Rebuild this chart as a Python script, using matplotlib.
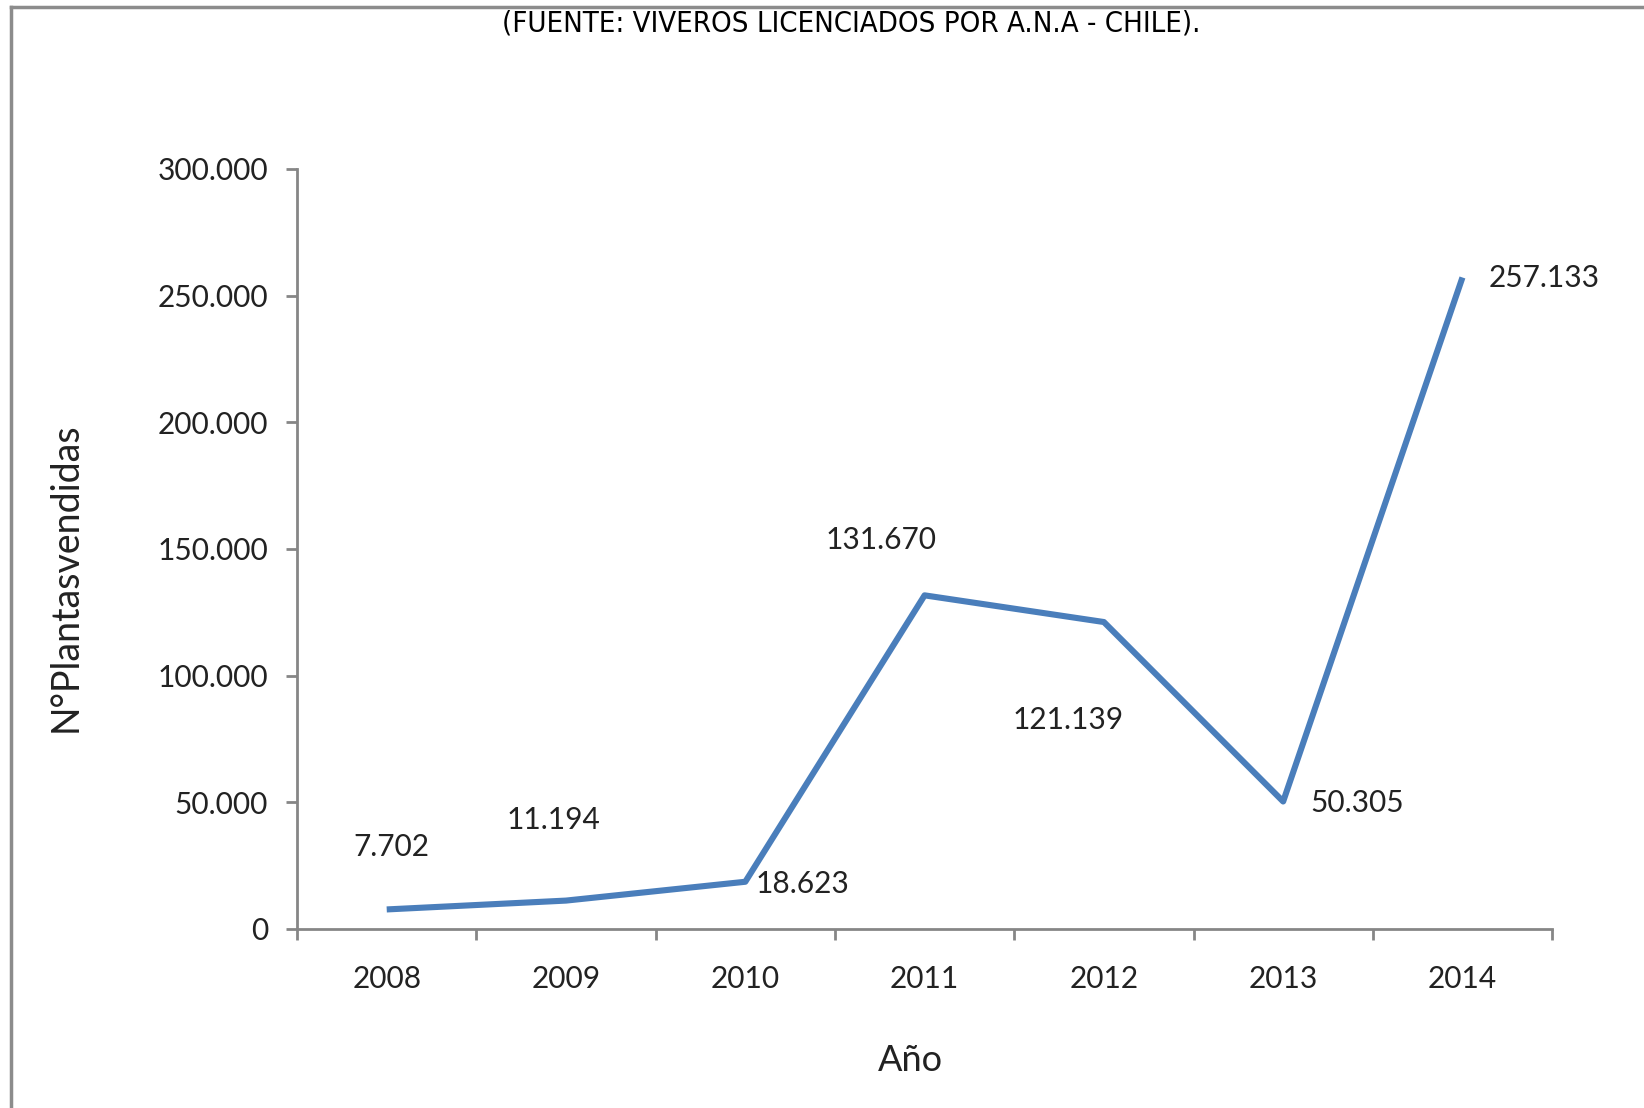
"""
Plantas vendidas por año (fuente: viveros licenciados por A.N.A - Chile)
"""

import matplotlib
matplotlib.use("Agg")
import matplotlib.pyplot as plt
from matplotlib.lines import Line2D
from matplotlib.ticker import FuncFormatter, MultipleLocator, FixedLocator

years = ["2008", "2009", "2010", "2011", "2012", "2013", "2014"]
plants = [7702, 11194, 18623, 131670, 121139, 50305, 257133]
value_labels = ["7.702", "11.194", "18.623", "131.670", "121.139", "50.305", "257.133"]

# label offsets in pixels (dx, dy) from each point
offsets = [(5, 62), (-13, 81), (57, -2), (-44, 55), (-36, -98), (74, -2), (82, -1)]

plt.rcParams["font.family"] = ["Lato", "DejaVu Sans"]
axis_gray = "#868686"
line_blue = "#4A7EBB"


def thousands(v, pos):
    return f"{int(v):,}".replace(",", ".")


def plot_plantas():
    fig = plt.figure(figsize=(16.44, 11.08), dpi=100)
    ax = fig.add_axes([0.1807, 0.1616, 0.7634, 0.686])

    x = list(range(len(years)))
    ax.plot(x, plants, color=line_blue, linewidth=4.4, solid_capstyle="butt")

    for xi, yi, lab, (dx, dy) in zip(x, plants, value_labels, offsets):
        ax.annotate(lab, (xi, yi), xytext=(dx, dy), textcoords="offset pixels",
                    ha="center", va="center", fontsize=21.5, color="#222222")

    ax.set_xlim(-0.5, len(years) - 0.5)
    ax.set_ylim(0, 300000)
    ax.yaxis.set_major_locator(MultipleLocator(50000))
    ax.yaxis.set_major_formatter(FuncFormatter(thousands))

    ax.set_xticks(x)
    ax.set_xticklabels(years)
    ax.xaxis.set_minor_locator(FixedLocator([i - 0.5 for i in range(len(years) + 1)]))
    ax.tick_params(axis="x", which="major", length=0, pad=26, labelsize=21.5,
                   labelcolor="#222222")
    ax.tick_params(axis="x", which="minor", length=8, width=2, color=axis_gray, direction="out")
    ax.tick_params(axis="y", length=8, width=2, color=axis_gray, direction="out",
                   pad=13, labelsize=21.5, labelcolor="#222222")

    for side in ["top", "right"]:
        ax.spines[side].set_visible(False)
    for side in ["left", "bottom"]:
        ax.spines[side].set_color(axis_gray)
        ax.spines[side].set_linewidth(2)

    fig.text(0.5535, 0.0433, "Año", ha="center", va="center", fontsize=26, color="#222222")
    fig.text(0.0401, 0.479, "N°Plantasvendidas", ha="center", va="center",
             rotation=90, fontsize=27, color="#222222")
    fig.text(0.5177, 0.979, "(FUENTE: VIVEROS LICENCIADOS POR A.N.A - CHILE).",
             ha="center", va="center", fontsize=21, fontstretch="condensed",
             family=["Liberation Sans Narrow", "DejaVu Sans"], color="black")

    # page frame of the original screenshot
    fig.add_artist(Line2D([0.0067, 0.0067], [0.0, 0.9937], color="#8c8c8c", linewidth=2.5,
                          transform=fig.transFigure))
    fig.add_artist(Line2D([0.0067, 1.0], [0.9937, 0.9937], color="#8c8c8c", linewidth=2.5,
                          transform=fig.transFigure))

    fig.savefig("out.png", dpi=100)


if __name__ == "__main__":
    plot_plantas()
